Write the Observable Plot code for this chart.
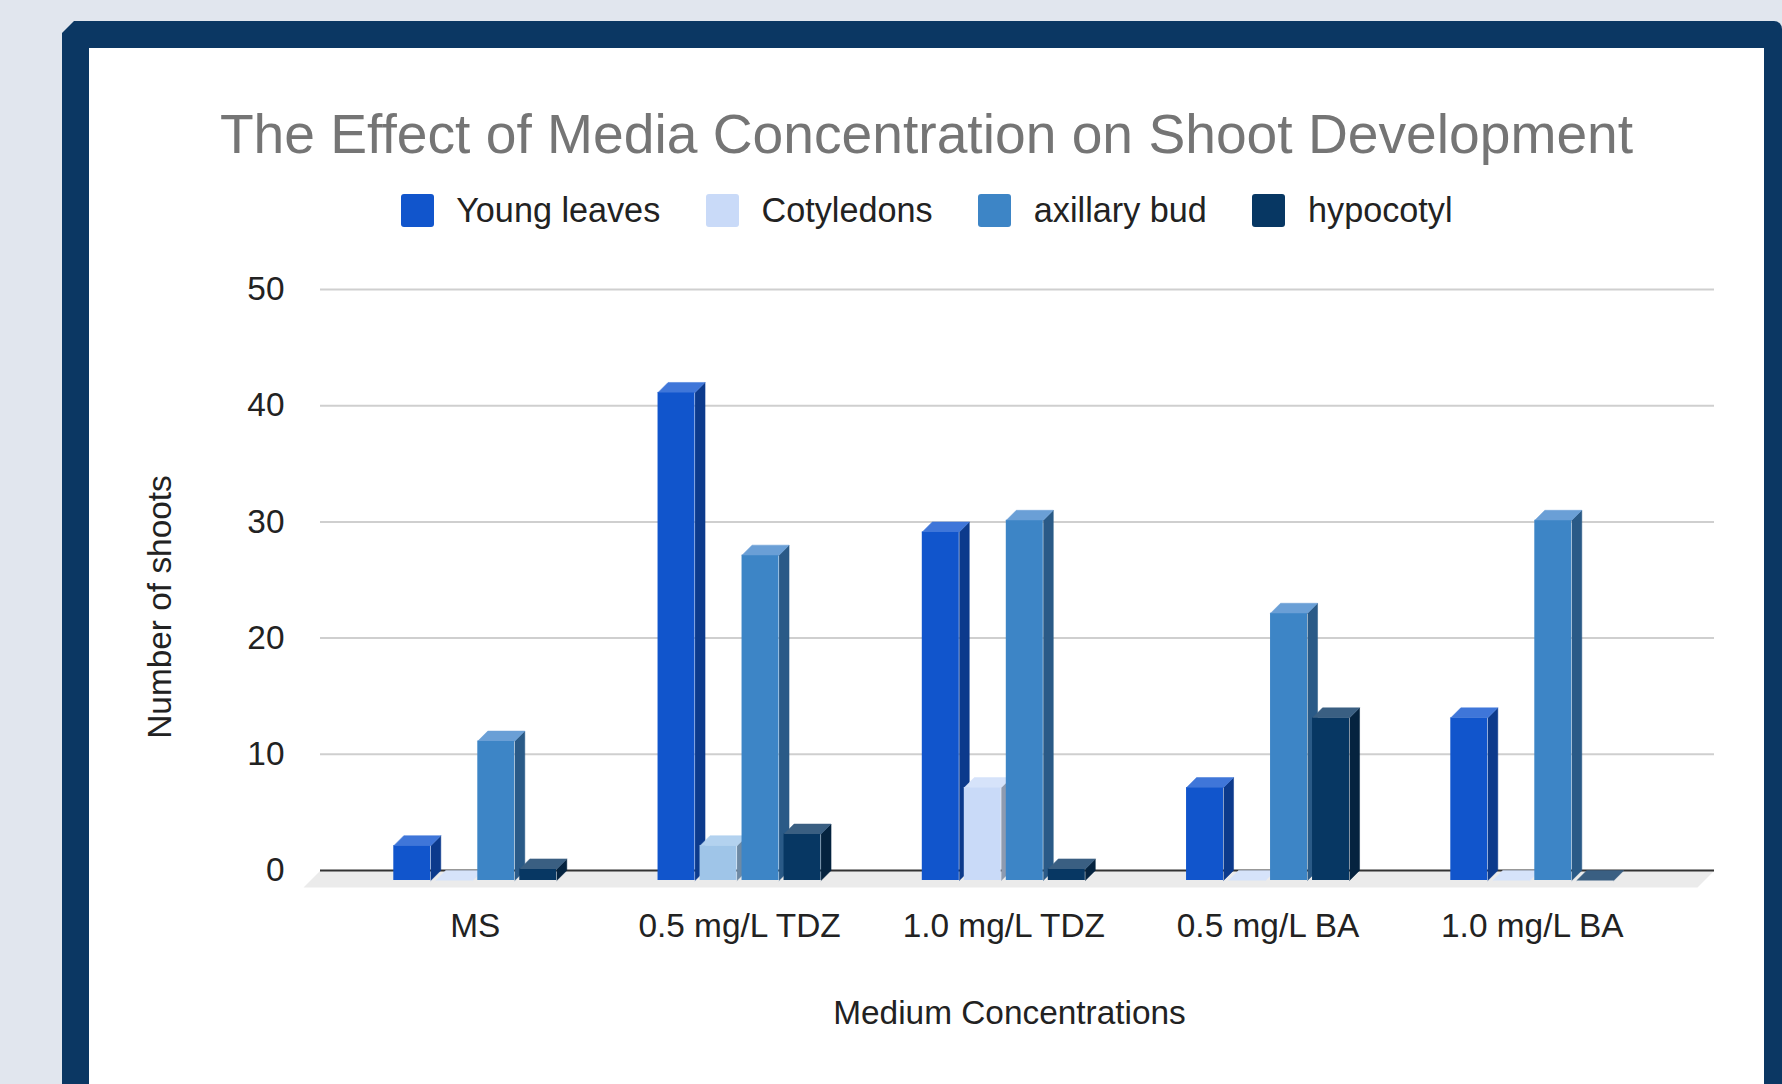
<!DOCTYPE html>
<html>
<head>
<meta charset="utf-8">
<script src="https://cdn.jsdelivr.net/npm/d3@7"></script>
<script src="https://cdn.jsdelivr.net/npm/@observablehq/plot@0.6"></script>
<style>
html, body { margin: 0; padding: 0; }
body { width: 1782px; height: 1084px; overflow: hidden; background: #e1e6ee; position: relative;
       font-family: 'Liberation Sans', Arial, Helvetica, sans-serif; }
#frame { position: absolute; left: 62px; top: 21px; width: 1720px; height: 1200px; background: #0b3763;
         clip-path: polygon(12px 0, 100% 0, 100% 100%, 0 100%, 0 12px); border-top-right-radius: 8px; }
#inner { position: absolute; left: 89px; top: 48px; width: 1675px; height: 1200px; background: #ffffff; }
#title { position: absolute; left: 89px; width: 1675px; top: 107px; text-align: center; font-size: 55.2px;
         line-height: 1; color: #757575; white-space: nowrap; }
#legend { position: absolute; left: 89px; width: 1675px; top: 190px; height: 40px; display: flex;
          justify-content: center; align-items: center; font-size: 34.2px; color: #222222; white-space: nowrap; }
#legend .item { display: flex; align-items: center; margin: 0 22.8px; }
#legend .sw { width: 33px; height: 33px; border-radius: 3px; margin-right: 22.7px; }
#chart { position: absolute; left: 0; top: 230px; }
</style>
</head>
<body>
<div id="frame"></div>
<div id="inner"></div>
<div id="title"></div>
<div id="legend"></div>
<div id="chart"></div>
<script>
// ---------- data ----------
const chartTitle = "The Effect of Media Concentration on Shoot Development";
const xTitle = "Medium Concentrations";
const yTitle = "Number of shoots";
const categories = ["MS", "0.5 mg/L TDZ", "1.0 mg/L TDZ", "0.5 mg/L BA", "1.0 mg/L BA"];
const seriesNames = ["Young leaves", "Cotyledons", "axillary bud", "hypocotyl"];
const youngLeaves = [3, 42, 30, 8, 14];
const cotyledons = [0, 3, 8, 0, 0];
const axillaryBud = [12, 28, 31, 23, 31];
const hypocotyl = [1, 4, 1, 14, 0];
const yTicks = [0, 10, 20, 30, 40, 50];

// ---------- styles ----------
const frontColors = ["#1155cc", "#c9daf8", "#3d85c6", "#073763"];
const sideColors  = ["#0c3a8c", "#8e9bb0", "#2a5a87", "#05233f"];
const topColors   = ["#3f76d9", "#d6e3fa", "#6a9fd6", "#3a5f82"];
// single point colour override (Cotyledons at 0.5 mg/L TDZ)
const overrideSeries = "Cotyledons", overrideCategory = "0.5 mg/L TDZ";
const overrideColors = {front: "#9fc5e8", side: "#6d8aa5", top: "#b3d2ef"};

// ---------- layout ----------
const W = 1782, H = 854;
const mL = 320, mR = 68, mT = 59, mB = 214;
const xDomain = [-0.5858, 4.6895];
const yDomain = [0, 50];
const barPitchPx = 42, barWidthPx = 37, depthPx = 10, floorDepthPx = 17;
const kx = (W - mL - mR) / (xDomain[1] - xDomain[0]);
const ky = (H - mT - mB) / (yDomain[1] - yDomain[0]);
const pitchU = barPitchPx / kx, widthU = barWidthPx / kx;
const dX = depthPx / kx, dY = depthPx / ky;

const seriesValues = [youngLeaves, cotyledons, axillaryBud, hypocotyl];

// title + legend
document.getElementById("title").textContent = chartTitle;
const legend = document.getElementById("legend");
seriesNames.forEach((name, s) => {
  const item = document.createElement("div");
  item.className = "item";
  const sw = document.createElement("div");
  sw.className = "sw";
  sw.style.background = frontColors[s];
  const label = document.createElement("span");
  label.textContent = name;
  item.appendChild(sw);
  item.appendChild(label);
  legend.appendChild(item);
});

// build bar records
const barsBySeries = seriesNames.map((name, s) => categories.map((cat, i) => {
  const isOverride = name === overrideSeries && cat === overrideCategory;
  const xc = i + (s - 1.5) * pitchU;
  return {
    series: name, category: cat, value: seriesValues[s][i],
    xl: xc - widthU / 2, xr: xc + widthU / 2,
    front: isOverride ? overrideColors.front : frontColors[s],
    side: isOverride ? overrideColors.side : sideColors[s],
    top: isOverride ? overrideColors.top : topColors[s]
  };
}));

// side and top faces as closed polygons
const facesBySeries = barsBySeries.map((bars, s) => {
  const pts = [];
  bars.forEach((b, i) => {
    const v = b.value;
    if (v > 0) {
      [[b.xr, 0], [b.xr + dX, dY], [b.xr + dX, v + dY], [b.xr, v]]
        .forEach(([x, y]) => pts.push({x, y, id: `side-${s}-${i}`, color: b.side}));
    }
    [[b.xl, v], [b.xl + dX, v + dY], [b.xr + dX, v + dY], [b.xr, v]]
      .forEach(([x, y]) => pts.push({x, y, id: `top-${s}-${i}`, color: b.top}));
  });
  return pts;
});

// floor
const fx = floorDepthPx / kx, fy = floorDepthPx / ky;
const floorPts = [
  {x: xDomain[0], y: 0}, {x: xDomain[1], y: 0},
  {x: xDomain[1] - fx, y: -fy}, {x: xDomain[0] - fx, y: -fy}
];

const marks = [
  Plot.line(floorPts, {x: "x", y: "y", fill: "#ebebeb", stroke: "none"}),
  Plot.ruleY(yTicks.filter(t => t > 0), {stroke: "#cfcfcf", strokeWidth: 2}),
  Plot.ruleY([0], {stroke: "#333333", strokeWidth: 2})
];
seriesNames.forEach((name, s) => {
  marks.push(Plot.rect(barsBySeries[s], {x1: "xl", x2: "xr", y1: 0, y2: "value", fill: "front", dy: depthPx}));
  marks.push(Plot.line(facesBySeries[s], {x: "x", y: "y", z: "id", fill: "color", stroke: "color",
                                          strokeWidth: 0.5, dy: depthPx}));
});
marks.push(Plot.text([yTitle], {text: d => d, frameAnchor: "left", textAnchor: "middle", lineAnchor: "middle",
                                 rotate: -90, dx: -160, dy: 27, fill: "#222222"}));
marks.push(Plot.text([xTitle], {text: d => d, frameAnchor: "bottom", textAnchor: "middle", dx: -8, dy: 153,
                                 fill: "#222222"}));

const chart = Plot.plot({
  width: W, height: H,
  marginLeft: mL, marginRight: mR, marginTop: mT, marginBottom: mB,
  style: {fontFamily: "'Liberation Sans', Arial, Helvetica, sans-serif", fontSize: "33.4px",
          color: "#222222", background: "transparent", overflow: "visible"},
  x: {type: "linear", domain: xDomain, ticks: categories.map((_, i) => i),
      tickFormat: i => categories[Math.round(i)], tickSize: 0, tickPadding: 43, label: null},
  y: {domain: yDomain, ticks: yTicks, tickSize: 0, tickPadding: 36, label: null},
  color: {type: "identity"},
  marks
});
document.getElementById("chart").appendChild(chart);
</script>
</body>
</html>
